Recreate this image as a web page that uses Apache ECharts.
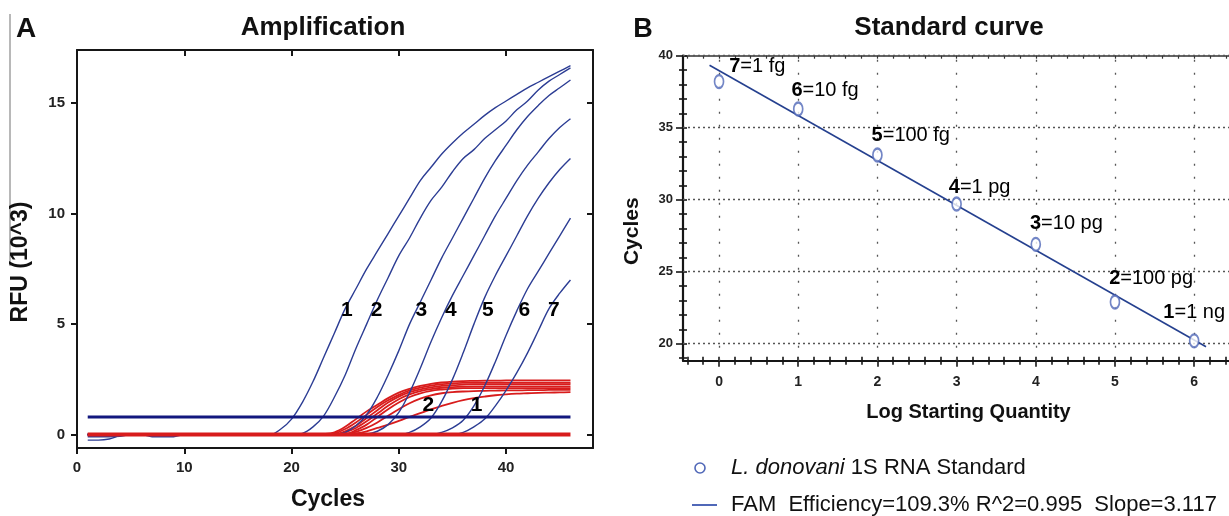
<!DOCTYPE html>
<html>
<head>
<meta charset="utf-8">
<script src="https://cdn.jsdelivr.net/npm/echarts@6.0.0/dist/echarts.min.js"></script>
<style>
html,body{margin:0;padding:0;background:#fff;}
#chart{width:1229px;height:516px;}
</style>
</head>
<body>
<div id="chart"></div>
<script>
// ================= Panel A : Amplification (RFU x10^3 per cycle) =================
const cycles = [1,2,3,4,5,6,7,8,9,10,11,12,13,14,15,16,17,18,19,20,21,22,23,24,25,26,27,28,29,30,31,32,33,34,35,36,37,38,39,40,41,42,43,44,45,46];

// blue: standards 1..7
const std1 = [-0.25,-0.25,-0.2,-0.05,0,0,0,0,0,0,0,0,0,0,0,0,0,
  0,0.25,0.7,1.45,2.4,3.5,4.6,5.7,6.6,7.5,8.3,9.1,9.9,10.7,11.5,12.1,12.7,13.2,13.65,14.05,14.45,14.8,15.1,15.4,15.7,15.95,16.2,16.45,16.7];
const std2 = [-0.1,-0.1,-0.1,-0.08,0,0,-0.1,-0.1,-0.1,0,0,0,0,0,0,0,0,0,0,0,
  0.05,0.35,0.85,1.7,2.7,3.9,5.0,6.1,7.1,8.1,8.9,9.8,10.6,11.2,11.9,12.5,12.9,13.4,13.8,14.2,14.7,15.1,15.6,16.0,16.3,16.6];
const std3 = [0,0,0,0,0,0,0,0,0,0,0,0,0,0,0,0,0,0,0,0,0,0,0,0,
  0.1,0.4,0.9,1.7,2.7,3.8,5.0,6.0,7.0,8.0,8.9,9.8,10.7,11.6,12.4,13.1,13.8,14.4,14.9,15.35,15.7,16.05];
const std4 = [0,0,0,0,0,0,0,0,0,0,0,0,0,0,0,0,0,0,0,0,0,0,0,0,0,0,
  0.02,0.15,0.45,1.0,1.9,3.0,4.2,5.3,6.3,7.2,8.1,9.0,9.9,10.7,11.5,12.2,12.8,13.4,13.9,14.3];
const std5 = [0,0,0,0,0,0,0,0,0,0,0,0,0,0,0,0,0,0,0,0,0,0,0,0,0,0,0,0,0,0,
  0.1,0.35,0.75,1.5,2.5,3.7,5.0,6.2,7.2,8.1,9.0,9.9,10.7,11.4,12.0,12.5];
const std6 = [0,0,0,0,0,0,0,0,0,0,0,0,0,0,0,0,0,0,0,0,0,0,0,0,0,0,0,0,0,0,0,0,0,
  0.1,0.3,0.65,1.3,2.2,3.3,4.5,5.6,6.6,7.4,8.2,9.0,9.8];
const std7 = [0,0,0,0,0,0,0,0,0,0,0,0,0,0,0,0,0,0,0,0,0,0,0,0,0,0,0,0,0,0,0,0,0,0,0,
  0.1,0.35,0.7,1.3,2.0,2.8,3.7,4.7,5.7,6.4,7.0];

// red: second target traces
const red1 = [0,0,0,0,0,0,0,0,0,0,0,0,0,0,0,0,0,0,0,0,0,0,
  0.02,0.1,0.35,0.7,1.05,1.35,1.65,1.9,2.07,2.2,2.3,2.36,2.4,2.42,2.43,2.44,2.44,2.45,2.45,2.45,2.45,2.45,2.45,2.45];
const red2 = [0,0,0,0,0,0,0,0,0,0,0,0,0,0,0,0,0,0,0,0,0,0,0,
  0.05,0.25,0.55,0.9,1.25,1.55,1.8,2.0,2.13,2.22,2.28,2.32,2.34,2.35,2.35,2.35,2.35,2.35,2.35,2.35,2.35,2.35,2.35];
const red3 = [0,0,0,0,0,0,0,0,0,0,0,0,0,0,0,0,0,0,0,0,0,0,0,0,
  0.15,0.4,0.75,1.1,1.45,1.72,1.92,2.05,2.14,2.2,2.24,2.26,2.28,2.28,2.28,2.28,2.28,2.28,2.28,2.28,2.28,2.28];
const red4 = [0,0,0,0,0,0,0,0,0,0,0,0,0,0,0,0,0,0,0,0,0,0,0,0,
  0.1,0.3,0.6,0.95,1.3,1.6,1.82,1.97,2.06,2.12,2.15,2.17,2.18,2.18,2.18,2.18,2.18,2.18,2.18,2.18,2.18,2.18];
const red5 = [0,0,0,0,0,0,0,0,0,0,0,0,0,0,0,0,0,0,0,0,0,0,0,0,0,
  0.2,0.45,0.8,1.15,1.45,1.7,1.87,1.98,2.04,2.08,2.1,2.1,2.1,2.1,2.1,2.1,2.1,2.1,2.1,2.1,2.1];
const redLow2 = [0,0,0,0,0,0,0,0,0,0,0,0,0,0,0,0,0,0,0,0,0,0,0,0,
  0.03,0.12,0.3,0.55,0.85,1.15,1.42,1.63,1.78,1.87,1.92,1.95,1.97,1.98,1.99,2.0,2.0,2.01,2.01,2.02,2.02,2.02];
const redLow1 = [0,0,0,0,0,0,0,0,0,0,0,0,0,0,0,0,0,0,0,0,0,0,0,0,0,
  0.05,0.15,0.3,0.45,0.62,0.8,0.97,1.14,1.3,1.44,1.56,1.65,1.72,1.78,1.82,1.85,1.87,1.89,1.9,1.91,1.92];
// non-amplifying traces (flat)
const ntc = [0,0,0,0,0,0,0,0,0,0,0,0,0,0,0,0,0,0,0,0,0,0,0,0,0,0,0,0,0,0,0,0,0,0,0,0,0,0,0,0,0,0,0,0,0,0];
// threshold
const thresholdCycles = [1, 46];
const thresholdRFU = [0.8, 0.8];

// curve annotations
const ampLabelText  = ['1','2','3','4','5','6','7','2','1'];
const ampLabelCycle = [25.2, 27.97, 32.15, 34.9, 38.35, 41.75, 44.5, 32.8, 37.3];
const ampLabelRFU   = [5.6, 5.6, 5.6, 5.6, 5.6, 5.6, 5.6, 1.3, 1.3];

const xTicksA = [0, 10, 20, 30, 40];
const yTicksA = [0, 5, 10, 15];

// ================= Panel B : Standard curve =================
const stdLogQty = [0, 1, 2, 3, 4, 5, 6];
const stdCt     = [38.2, 36.3, 33.1, 29.7, 26.9, 22.9, 20.2];
const stdLabels = ['7=1 fg','6=10 fg','5=100 fg','4=1 pg','3=10 pg','2=100 pg','1=1 ng'];
const fitX = [-0.12, 6.15];
const fitY = [39.34, 19.79];

const xTicksB = [0, 1, 2, 3, 4, 5, 6];
const yTicksB = [20, 25, 30, 35, 40];

// ================= styling =================
const FONT = "'Liberation Sans', Arial, sans-serif";
const INK = '#161616';
const BLUE = '#2c3d94';
const RED = '#d81c1c';
const NAVY = '#13187e';
const PT = '#5068b8';

const xMinorB = [];
for (let k = -2; k <= 32; k++) { if (k % 5 !== 0) xMinorB.push(k / 5); }
const yMinorB = [];
for (let v = 19; v <= 39; v++) { if (v % 5 !== 0) yMinorB.push(v); }
const labelOffB = [[11,-14],[-6,-17],[-5,-18],[-7,-15],[-5,-20],[-5,-22],[-30,-27]];

const gA = {left: 77, top: 50, width: 516, height: 400};
const gB = {left: 683, top: 55.7, right: 0, height: 305};

function pairs(ys) { return cycles.map((c, i) => [c, ys[i]]); }
function curve(name, ys, color, width) {
  return {type: 'line', name: name, xAxisIndex: 0, yAxisIndex: 0, data: pairs(ys),
    showSymbol: false, symbol: 'none', smooth: 0.35, silent: true,
    lineStyle: {color: color, width: width}};
}
const axBase = (extra) => Object.assign({
  type: 'value', splitLine: {show: false}
}, extra);

const series = [];
[red1, red2, red3, red4, red5, redLow2, redLow1].forEach((r, i) => series.push(curve('red ' + (i + 1), r, RED, 1.8)));
[std1, std2, std3, std4, std5, std6, std7].forEach((s, i) => series.push(curve('Standard ' + (i + 1), s, BLUE, 1.4)));
series.push(curve('Non-amplified', ntc, RED, 4));
series.push({type: 'line', name: 'Threshold', xAxisIndex: 0, yAxisIndex: 0,
  data: thresholdCycles.map((c, i) => [c, thresholdRFU[i]]), symbol: 'none', silent: true,
  lineStyle: {color: NAVY, width: 3}});
series.push({type: 'scatter', name: 'curve labels', xAxisIndex: 0, yAxisIndex: 0, z: 10,
  data: ampLabelCycle.map((c, i) => [c, ampLabelRFU[i]]), symbolSize: 1, silent: true,
  itemStyle: {color: '#fff', opacity: 0},
  label: {show: true, position: [0, 0], align: 'center', verticalAlign: 'middle', formatter: p => ampLabelText[p.dataIndex],
    fontSize: 21, fontWeight: 'bold', color: '#000', opacity: 1, textBorderWidth: 0, fontFamily: FONT}});

// Panel B series
series.push({type: 'line', name: 'FAM fit', xAxisIndex: 2, yAxisIndex: 2,
  data: fitX.map((x, i) => [x, fitY[i]]), symbol: 'none', silent: true, z: 3,
  lineStyle: {color: '#25408f', width: 1.6},
  markLine: {silent: true, symbol: 'none', label: {show: false}, z: 1,
    data: xTicksB.map(v => ({xAxis: v, lineStyle: {type: [2, 11], color: '#555', width: 1.3}}))
      .concat(yTicksB.map(v => ({yAxis: v, lineStyle: {type: [2, 3], color: '#555', width: 1.3}})))}});
series.push({type: 'scatter', name: 'L. donovani 1S RNA Standard', xAxisIndex: 2, yAxisIndex: 2, z: 4,
  data: stdLogQty.map((x, i) => ({value: [x, stdCt[i]],
    label: {position: [labelOffB[i][0] + 4.5, labelOffB[i][1] + 6.5]}})),
  symbol: 'emptyCircle', symbolSize: [9, 13],
  itemStyle: {color: PT, borderColor: PT, borderWidth: 1.8},
  label: {show: true, align: 'left', verticalAlign: 'middle', color: '#000', opacity: 1, textBorderWidth: 0,
    formatter: p => { const t = stdLabels[p.dataIndex]; const k = t.indexOf('=');
      return '{b|' + t.slice(0, k) + '}{n|' + t.slice(k) + '}'; },
    rich: {b: {fontSize: 20, fontWeight: 'bold', color: '#000', opacity: 1, fontFamily: FONT},
           n: {fontSize: 20, color: '#000', opacity: 1, fontFamily: FONT}}}});

const axisLineBlack = (w) => ({onZero: false, lineStyle: {color: INK, width: w}});
const noLine = {show: false, onZero: false};

const option = {
  animation: false,
  backgroundColor: '#fff',
  textStyle: {fontFamily: FONT},
  grid: [
    Object.assign({}, gA),
    Object.assign({}, gB),
    Object.assign({}, gB),
    Object.assign({}, gB)
  ],
  xAxis: [
    axBase({gridIndex: 0, min: 0, max: 48.1, position: 'bottom',
      axisLine: axisLineBlack(2),
      axisTick: {customValues: xTicksA, length: 6, lineStyle: {color: INK, width: 2}},
      axisLabel: {customValues: xTicksA, fontSize: 15, fontWeight: 'bold', color: '#222', margin: 12},
      name: 'Cycles', nameLocation: 'middle', nameGap: 40,
      nameTextStyle: {fontSize: 23, fontWeight: 'bold', color: '#111', padding: [0, 14, 0, 0]}}),
    axBase({gridIndex: 0, min: 0, max: 48.1, position: 'top',
      axisLine: axisLineBlack(2),
      axisTick: {customValues: xTicksA.filter(v => v > 0), inside: true, length: 6, lineStyle: {color: INK, width: 2}},
      axisLabel: {show: false}}),
    axBase({gridIndex: 1, min: -0.455, max: 6.44, position: 'bottom',
      axisLine: axisLineBlack(2.2),
      axisTick: {customValues: xTicksB, length: 6, lineStyle: {color: INK, width: 1.6}},
      axisLabel: {customValues: xTicksB, fontSize: 14, fontWeight: 'bold', color: '#222', margin: 14},
      name: 'Log Starting Quantity', nameLocation: 'middle', nameGap: 42,
      nameTextStyle: {fontSize: 20, fontWeight: 'bold', color: '#111', padding: [0, 0, 0, 25]}}),
    axBase({gridIndex: 1, min: -0.455, max: 6.44, position: 'top',
      axisLine: {onZero: false, lineStyle: {color: '#333', width: 1.6}},
      axisTick: {customValues: xMinorB.concat(xTicksB), inside: true, length: 3, lineStyle: {color: '#333', width: 1.2}},
      axisLabel: {show: false}}),
    axBase({gridIndex: 2, min: -0.455, max: 6.44, position: 'bottom',
      axisLine: noLine,
      axisTick: {customValues: xMinorB, length: 4, lineStyle: {color: INK, width: 1.6}},
      axisLabel: {show: false}}),
    axBase({gridIndex: 3, min: -0.455, max: 6.44, position: 'bottom',
      axisLine: noLine,
      axisTick: {customValues: xMinorB.concat(xTicksB), inside: true, length: 4, lineStyle: {color: INK, width: 1.6}},
      axisLabel: {show: false}})
  ],
  yAxis: [
    axBase({gridIndex: 0, min: -0.608, max: 17.41, position: 'left',
      axisLine: axisLineBlack(2),
      axisTick: {customValues: yTicksA, length: 6, lineStyle: {color: INK, width: 2}},
      axisLabel: {customValues: yTicksA, fontSize: 15, fontWeight: 'bold', color: '#222', margin: 12},
      name: 'RFU (10^3)', nameLocation: 'middle', nameGap: 45,
      nameTextStyle: {fontSize: 23, fontWeight: 'bold', color: '#111', padding: [0, 26, 0, 0]}}),
    axBase({gridIndex: 0, min: -0.608, max: 17.41, position: 'right',
      axisLine: axisLineBlack(2),
      axisTick: {customValues: yTicksA, inside: true, length: 6, lineStyle: {color: INK, width: 2}},
      axisLabel: {show: false}}),
    axBase({gridIndex: 1, min: 18.82, max: 40, position: 'left',
      axisLine: axisLineBlack(2.2),
      axisTick: {customValues: yTicksB, length: 7, lineStyle: {color: INK, width: 1.6}},
      axisLabel: {customValues: yTicksB, fontSize: 13, fontWeight: 'bold', color: '#222', margin: 10},
      name: 'Cycles', nameLocation: 'middle', nameGap: 40,
      nameTextStyle: {fontSize: 21, fontWeight: 'bold', color: '#111', padding: [0, 46, 0, 0]}}),
    axBase({gridIndex: 2, min: 18.82, max: 40, position: 'left',
      axisLine: noLine,
      axisTick: {customValues: yMinorB, length: 4, lineStyle: {color: INK, width: 1.6}},
      axisLabel: {show: false}}),
    axBase({gridIndex: 3, min: 18.82, max: 40, position: 'left',
      axisLine: noLine,
      axisTick: {customValues: yMinorB.concat(yTicksB), inside: true, length: 4, lineStyle: {color: INK, width: 1.6}},
      axisLabel: {show: false}})
  ],
  series: series,
  graphic: [
    {type: 'line', silent: true, shape: {x1: 10, y1: 14, x2: 10, y2: 266}, style: {stroke: '#a0a0a0', lineWidth: 1.5}},
    {type: 'text', silent: true, style: {text: 'A', x: 26, y: 29, align: 'center', verticalAlign: 'middle',
      fontSize: 28, fontWeight: 'bold', fontFamily: FONT, fill: '#111'}},
    {type: 'text', silent: true, style: {text: 'Amplification', x: 323, y: 28, align: 'center', verticalAlign: 'middle',
      fontSize: 26, fontWeight: 'bold', fontFamily: FONT, fill: '#111'}},
    {type: 'text', silent: true, style: {text: 'B', x: 643, y: 30, align: 'center', verticalAlign: 'middle',
      fontSize: 27, fontWeight: 'bold', fontFamily: FONT, fill: '#111'}},
    {type: 'text', silent: true, style: {text: 'Standard curve', x: 949, y: 28, align: 'center', verticalAlign: 'middle',
      fontSize: 26, fontWeight: 'bold', fontFamily: FONT, fill: '#111'}},
    {type: 'circle', silent: true, shape: {cx: 700, cy: 468, r: 5}, style: {fill: 'none', stroke: PT, lineWidth: 1.6}},
    {type: 'text', silent: true, style: {text: '{i|L. donovani} 1S RNA Standard', x: 731, y: 468, align: 'left', verticalAlign: 'middle',
      fontSize: 22, fontFamily: FONT, fill: '#111', rich: {i: {fontStyle: 'italic', fontSize: 22, fontFamily: FONT, fill: '#111'}}}},
    {type: 'line', silent: true, shape: {x1: 692, y1: 505, x2: 717, y2: 505}, style: {stroke: PT, lineWidth: 2}},
    {type: 'text', silent: true, style: {text: 'FAM  Efficiency=109.3% R^2=0.995  Slope=3.117', x: 731, y: 505, align: 'left', verticalAlign: 'middle',
      fontSize: 22, fontFamily: FONT, fill: '#111'}}
  ]
};

const chart = echarts.init(document.getElementById('chart'), null, {renderer: 'canvas'});
chart.setOption(option);
</script>
</body>
</html>
